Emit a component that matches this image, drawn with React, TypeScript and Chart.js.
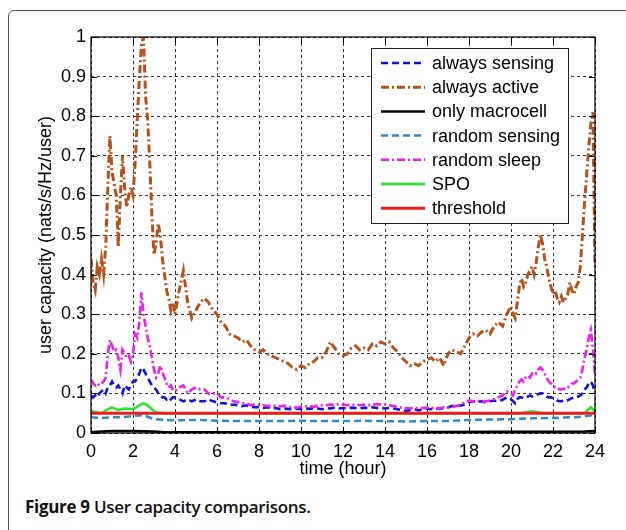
import React, { useEffect, useRef } from "react";
import { Chart, registerables } from "chart.js";

Chart.register(...registerables);

// Sample times (hours): fine steps where the curves are spiky, coarser in the middle
const HOURS = [
  0, 0.1, 0.2, 0.3, 0.4, 0.5, 0.6, 0.7, 0.8, 0.9,
  1.0, 1.1, 1.2, 1.3, 1.4, 1.5, 1.6, 1.7, 1.8, 1.9,
  2.0, 2.1, 2.2, 2.3, 2.4, 2.5, 2.6, 2.7, 2.8, 2.9,
  3.0, 3.1, 3.2, 3.3, 3.4, 3.5, 3.6, 3.7, 3.8, 3.9,
  4.0,
  4.2, 4.4, 4.6, 4.8, 5.0, 5.2, 5.4, 5.6, 5.8, 6.0,
  6.2, 6.4, 6.6, 6.8, 7.0, 7.2, 7.4, 7.6, 7.8, 8.0,
  8.2, 8.4, 8.6, 8.8, 9.0, 9.2, 9.4, 9.6, 9.8, 10.0,
  10.2, 10.4, 10.6, 10.8, 11.0, 11.2, 11.4, 11.6, 11.8, 12.0,
  12.2, 12.4, 12.6, 12.8, 13.0, 13.2, 13.4, 13.6, 13.8, 14.0,
  14.2, 14.4, 14.6, 14.8, 15.0, 15.2, 15.4, 15.6, 15.8, 16.0,
  16.2, 16.4, 16.6, 16.8, 17.0, 17.2, 17.4, 17.6, 17.8, 18.0,
  18.2, 18.4, 18.6, 18.8, 19.0, 19.2, 19.4, 19.6, 19.8, 20.0,
  20.1, 20.2, 20.3, 20.4, 20.5, 20.6, 20.7, 20.8, 20.9, 21.0,
  21.1, 21.2, 21.3, 21.4, 21.5, 21.6, 21.7, 21.8, 21.9, 22.0,
  22.1, 22.2, 22.3, 22.4, 22.5, 22.6, 22.7, 22.8, 22.9, 23.0,
  23.1, 23.2, 23.3, 23.4, 23.5, 23.6, 23.7, 23.8, 23.9, 24.0,
];

const ALWAYS_ACTIVE = [
  0.44, 0.38, 0.36, 0.42, 0.40, 0.44, 0.40, 0.47, 0.62, 0.75,
  0.66, 0.63, 0.60, 0.47, 0.60, 0.70, 0.62, 0.57, 0.60, 0.62,
  0.60, 0.68, 0.79, 0.89, 0.98, 1.00, 0.85, 0.79, 0.68, 0.55,
  0.45, 0.48, 0.53, 0.50, 0.44, 0.40, 0.36, 0.34, 0.31, 0.33,
  0.30,
  0.36, 0.41, 0.33, 0.29, 0.31, 0.33, 0.34, 0.33, 0.31, 0.30,
  0.28, 0.27, 0.25, 0.245, 0.24, 0.23, 0.235, 0.22, 0.21, 0.205,
  0.21, 0.20, 0.195, 0.19, 0.185, 0.18, 0.175, 0.165, 0.16, 0.17,
  0.165, 0.175, 0.18, 0.19, 0.19, 0.205, 0.23, 0.215, 0.20, 0.195,
  0.20, 0.215, 0.22, 0.21, 0.215, 0.21, 0.225, 0.22, 0.23, 0.225,
  0.23, 0.215, 0.205, 0.19, 0.18, 0.17, 0.175, 0.17, 0.18, 0.185,
  0.19, 0.18, 0.19, 0.17, 0.20, 0.21, 0.205, 0.20, 0.22, 0.24,
  0.25, 0.245, 0.255, 0.26, 0.25, 0.27, 0.28, 0.27, 0.30, 0.32,
  0.30, 0.29, 0.33, 0.37, 0.39, 0.37, 0.38, 0.40, 0.41, 0.42,
  0.40, 0.43, 0.47, 0.50, 0.48, 0.44, 0.42, 0.39, 0.37, 0.35,
  0.36, 0.34, 0.33, 0.345, 0.33, 0.34, 0.35, 0.38, 0.36, 0.35,
  0.37, 0.38, 0.42, 0.50, 0.58, 0.65, 0.72, 0.78, 0.81, 0.42,
];

const ALWAYS_SENSING = [
  0.095, 0.09, 0.095, 0.09, 0.10, 0.105, 0.11, 0.10, 0.115, 0.12,
  0.13, 0.12, 0.115, 0.12, 0.11, 0.10, 0.12, 0.115, 0.11, 0.12,
  0.13, 0.13, 0.14, 0.15, 0.165, 0.16, 0.15, 0.14, 0.13, 0.12,
  0.115, 0.11, 0.10, 0.095, 0.09, 0.09, 0.085, 0.09, 0.085, 0.09,
  0.09,
  0.085, 0.08, 0.085, 0.08, 0.085, 0.08, 0.08, 0.085, 0.08, 0.078,
  0.075, 0.075, 0.07, 0.072, 0.07, 0.068, 0.07, 0.066, 0.065, 0.065,
  0.063, 0.065, 0.062, 0.063, 0.06, 0.062, 0.061, 0.06, 0.062, 0.06,
  0.062, 0.061, 0.063, 0.062, 0.06, 0.063, 0.062, 0.064, 0.062, 0.063,
  0.062, 0.064, 0.063, 0.062, 0.064, 0.063, 0.065, 0.063, 0.064, 0.062,
  0.063, 0.062, 0.06, 0.058, 0.056, 0.058, 0.06, 0.057, 0.06, 0.062,
  0.06, 0.062, 0.061, 0.063, 0.065, 0.068, 0.07, 0.069, 0.072, 0.078,
  0.08, 0.078, 0.08, 0.077, 0.08, 0.082, 0.08, 0.084, 0.09, 0.085,
  0.08, 0.075, 0.085, 0.09, 0.09, 0.088, 0.09, 0.092, 0.095, 0.092,
  0.095, 0.097, 0.098, 0.10, 0.10, 0.095, 0.092, 0.09, 0.09, 0.088,
  0.085, 0.082, 0.08, 0.08, 0.082, 0.08, 0.083, 0.085, 0.088, 0.09,
  0.09, 0.092, 0.095, 0.10, 0.11, 0.115, 0.125, 0.13, 0.12, 0.10,
];

const RANDOM_SLEEP = [
  0.135, 0.125, 0.12, 0.125, 0.12, 0.125, 0.13, 0.14, 0.20, 0.235,
  0.22, 0.205, 0.21, 0.19, 0.16, 0.21, 0.20, 0.19, 0.195, 0.18,
  0.20, 0.25, 0.24, 0.28, 0.355, 0.30, 0.27, 0.24, 0.22, 0.19,
  0.16, 0.14, 0.15, 0.17, 0.155, 0.14, 0.125, 0.115, 0.12, 0.11,
  0.105,
  0.115, 0.12, 0.10, 0.11, 0.115, 0.11, 0.11, 0.10, 0.10, 0.10,
  0.09, 0.09, 0.085, 0.08, 0.078, 0.075, 0.075, 0.07, 0.072, 0.07,
  0.07, 0.068, 0.07, 0.068, 0.067, 0.069, 0.066, 0.065, 0.064, 0.066,
  0.067, 0.068, 0.066, 0.069, 0.07, 0.07, 0.072, 0.071, 0.073, 0.072,
  0.07, 0.072, 0.071, 0.07, 0.072, 0.07, 0.071, 0.073, 0.072, 0.072,
  0.07, 0.068, 0.066, 0.064, 0.063, 0.062, 0.064, 0.062, 0.063, 0.064,
  0.063, 0.064, 0.062, 0.065, 0.064, 0.066, 0.068, 0.07, 0.078, 0.082,
  0.08, 0.082, 0.078, 0.08, 0.082, 0.085, 0.09, 0.095, 0.105, 0.10,
  0.095, 0.11, 0.12, 0.13, 0.135, 0.13, 0.14, 0.145, 0.14, 0.15,
  0.155, 0.15, 0.16, 0.165, 0.16, 0.15, 0.14, 0.13, 0.125, 0.12,
  0.115, 0.115, 0.11, 0.11, 0.112, 0.11, 0.115, 0.12, 0.125, 0.125,
  0.13, 0.135, 0.14, 0.16, 0.19, 0.21, 0.24, 0.26, 0.21, 0.15,
];

const RANDOM_SENSING_HOURS = [0, 0.5, 1, 1.5, 2, 2.5, 3, 3.5, 4, 5, 6, 7, 8, 9, 10, 11, 12, 13, 14, 15, 16, 17, 18, 19, 20, 21, 22, 23, 23.5, 24];
const RANDOM_SENSING = [0.04, 0.038, 0.04, 0.04, 0.043, 0.045, 0.035, 0.033, 0.032, 0.033, 0.031, 0.03, 0.03, 0.03, 0.031, 0.03, 0.03, 0.031, 0.03, 0.029, 0.03, 0.03, 0.033, 0.034, 0.035, 0.037, 0.038, 0.04, 0.042, 0.046];

const SPO_HOURS = [0, 0.5, 0.8, 1.0, 1.3, 1.6, 2.0, 2.3, 2.5, 2.7, 2.9, 3.1, 3.5, 20.5, 21, 21.5, 23.5, 23.8, 24];
const SPO = [0.055, 0.05, 0.06, 0.065, 0.058, 0.062, 0.06, 0.07, 0.075, 0.07, 0.06, 0.052, 0.05, 0.05, 0.055, 0.05, 0.05, 0.065, 0.055];

const MACROCELL_HOURS = [0, 0.5, 1, 2, 3, 3.5, 4, 12, 23.5, 24];
const ONLY_MACROCELL = [0.002, 0.004, 0.005, 0.005, 0.004, 0.002, 0.002, 0.002, 0.004, 0.005];

const THRESHOLD_HOURS = [0, 24];
const THRESHOLD = [0.05, 0.05];

const X_TICKS = [0, 2, 4, 6, 8, 10, 12, 14, 16, 18, 20, 22, 24];
const Y_TICKS = [0, 0.1, 0.2, 0.3, 0.4, 0.5, 0.6, 0.7, 0.8, 0.9, 1];

const FONT = "'Liberation Sans', Arial, sans-serif";

type Series = {
  label: string;
  hours: number[];
  values: number[];
  color: string;
  dash: number[];
  width: number;
};

// Legend order; later entries are painted on top
const SERIES: Series[] = [
  { label: "always sensing", hours: HOURS, values: ALWAYS_SENSING, color: "#1010e0", dash: [7, 4], width: 2.6 },
  { label: "always active", hours: HOURS, values: ALWAYS_ACTIVE, color: "#b4521c", dash: [8, 3, 2, 3], width: 3 },
  { label: "only macrocell", hours: MACROCELL_HOURS, values: ONLY_MACROCELL, color: "#000000", dash: [], width: 2.5 },
  { label: "random sensing", hours: RANDOM_SENSING_HOURS, values: RANDOM_SENSING, color: "#2c8bc9", dash: [7, 4], width: 2.5 },
  { label: "random sleep", hours: HOURS, values: RANDOM_SLEEP, color: "#f01cf0", dash: [8, 3, 2, 3], width: 2.6 },
  { label: "SPO", hours: SPO_HOURS, values: SPO, color: "#22e622", dash: [], width: 2.5 },
  { label: "threshold", hours: THRESHOLD_HOURS, values: THRESHOLD, color: "#ee1c1c", dash: [], width: 3 },
];

const framePlugin = {
  id: "matlabFrame",
  afterDatasetsDraw(chart: any) {
    const { ctx, chartArea: a, scales } = chart;
    const xs = scales.x;
    const ys = scales.y;
    ctx.save();
    // axes box
    ctx.strokeStyle = "#000";
    ctx.lineWidth = 1.2;
    ctx.setLineDash([]);
    ctx.strokeRect(a.left, a.top, a.right - a.left, a.bottom - a.top);
    // inward tick marks on all four sides
    const tl = 6;
    ctx.lineWidth = 1;
    ctx.beginPath();
    X_TICKS.forEach((t) => {
      const px = Math.round(xs.getPixelForValue(t)) + 0.5;
      ctx.moveTo(px, a.bottom);
      ctx.lineTo(px, a.bottom - tl);
      ctx.moveTo(px, a.top);
      ctx.lineTo(px, a.top + tl);
    });
    Y_TICKS.forEach((t) => {
      const py = Math.round(ys.getPixelForValue(t)) + 0.5;
      ctx.moveTo(a.left, py);
      ctx.lineTo(a.left + tl, py);
      ctx.moveTo(a.right, py);
      ctx.lineTo(a.right - tl, py);
    });
    ctx.stroke();

    // legend box
    const lx = 371, ly = 48, lw = 197, lh = 175;
    ctx.fillStyle = "#fff";
    ctx.fillRect(lx, ly, lw, lh);
    ctx.strokeStyle = "#222";
    ctx.lineWidth = 1;
    ctx.strokeRect(lx + 0.5, ly + 0.5, lw, lh);
    ctx.font = `18px ${FONT}`;
    ctx.textBaseline = "middle";
    ctx.textAlign = "left";
    SERIES.forEach((s, i) => {
      const cy = 63 + i * 24.2;
      ctx.strokeStyle = s.color;
      ctx.lineWidth = s.width;
      ctx.setLineDash(s.dash);
      ctx.beginPath();
      ctx.moveTo(381, cy);
      ctx.lineTo(425, cy);
      ctx.stroke();
      ctx.setLineDash([]);
      ctx.fillStyle = "#000";
      ctx.fillText(s.label, 432, cy + 1);
    });

    // axis titles
    ctx.fillStyle = "#000";
    ctx.font = `18px ${FONT}`;
    ctx.textAlign = "center";
    ctx.textBaseline = "middle";
    ctx.fillText("time (hour)", (a.left + a.right) / 2, 469);
    ctx.translate(46, (a.top + a.bottom) / 2);
    ctx.rotate(-Math.PI / 2);
    ctx.fillText("user capacity (nats/s/Hz/user)", 0, 0);
    ctx.restore();
  },
};

export default function App() {
  const canvasRef = useRef<HTMLCanvasElement | null>(null);

  useEffect(() => {
    const canvas = canvasRef.current;
    if (!canvas) return;
    const datasets = SERIES.map((s, i) => ({
      label: s.label,
      data: s.hours.map((h, k) => ({ x: h, y: s.values[k] })),
      borderColor: s.color,
      backgroundColor: s.color,
      borderWidth: s.width,
      borderDash: s.dash,
      pointRadius: 0,
      tension: 0,
      fill: false,
      order: SERIES.length - i,
    }));
    const chart = new Chart(canvas, {
      type: "line",
      data: { datasets },
      options: {
        animation: false,
        responsive: false,
        devicePixelRatio: 1,
        layout: { padding: { left: 0, right: 31, top: 37, bottom: 0 } },
        plugins: {
          legend: { display: false },
          tooltip: { enabled: false },
        },
        scales: {
          x: {
            type: "linear",
            min: 0,
            max: 24,
            afterFit: (s: any) => {
              s.height = 480 - 433;
            },
            afterBuildTicks: (s: any) => {
              s.ticks = X_TICKS.map((v) => ({ value: v }));
            },
            ticks: {
              color: "#000",
              padding: 8,
              maxRotation: 0,
              autoSkip: false,
              font: { family: FONT, size: 18 },
              callback: (v: any) => String(v),
            },
            grid: { color: "#333", lineWidth: 1, drawTicks: false },
            border: { display: false, dash: [3, 3] },
          },
          y: {
            type: "linear",
            min: 0,
            max: 1,
            afterFit: (s: any) => {
              s.width = 91;
            },
            afterBuildTicks: (s: any) => {
              s.ticks = Y_TICKS.map((v) => ({ value: v }));
            },
            ticks: {
              color: "#000",
              padding: 5,
              autoSkip: false,
              font: { family: FONT, size: 18 },
              callback: (v: any) => String(Number(Number(v).toFixed(1))),
            },
            grid: { color: "#333", lineWidth: 1, drawTicks: false },
            border: { display: false, dash: [3, 3] },
          },
        },
      },
      plugins: [framePlugin],
    });
    return () => chart.destroy();
  }, []);

  return (
    <div
      style={{
        position: "absolute",
        left: 0,
        top: 0,
        width: 626,
        height: 530,
        overflow: "hidden",
        background: "#fff",
      }}
    >
      <div
        style={{
          position: "absolute",
          left: 8,
          top: 10,
          width: 700,
          height: 600,
          border: "1.5px solid #555",
          borderTopLeftRadius: 6,
          boxSizing: "border-box",
        }}
      />
      <canvas
        ref={canvasRef}
        width={626}
        height={480}
        style={{ position: "absolute", left: 0, top: 0, width: 626, height: 480 }}
      />
      <div
        style={{
          position: "absolute",
          left: 25,
          top: 495,
          fontFamily: "'Open Sans', 'Noto Sans', sans-serif",
          fontSize: 17,
          lineHeight: "24px",
          color: "#111",
          whiteSpace: "nowrap",
          letterSpacing: -0.3,
        }}
      >
        <span style={{ fontWeight: 700 }}>Figure 9</span>{" "}
        <span style={{ fontWeight: 600 }}>User capacity comparisons.</span>
      </div>
    </div>
  );
}
